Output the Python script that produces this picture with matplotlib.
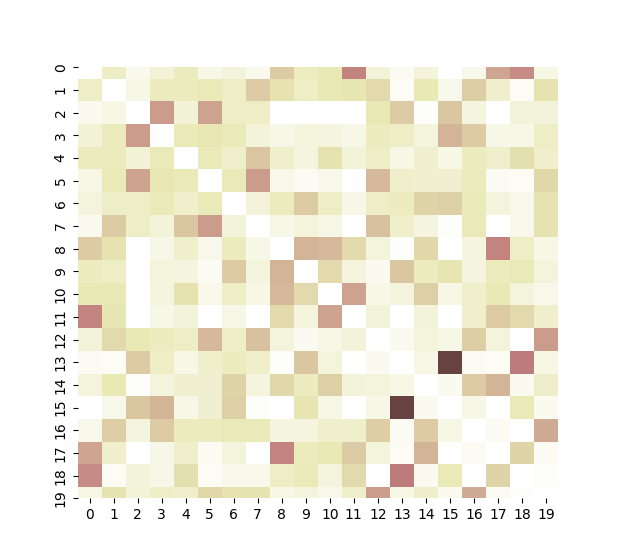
import numpy as np
import matplotlib
matplotlib.use("Agg")
import matplotlib.pyplot as plt
import seaborn as sns

n = 20
labels = [str(i) for i in range(n)]

# upper triangle (row i, columns i+1 .. 19)
upper = [
    [0.20, 0.07, 0.15, 0.23, 0.10, 0.13, 0.07, 0.38, 0.22, 0.25, 0.62, 0.14, 0.05, 0.13, 0.00, 0.08, 0.52, 0.60, 0.10],
    [0.10, 0.23, 0.23, 0.24, 0.20, 0.38, 0.28, 0.20, 0.25, 0.27, 0.32, 0.04, 0.25, 0.08, 0.37, 0.18, 0.04, 0.28],
    [0.55, 0.15, 0.53, 0.20, 0.20, 0.00, 0.00, 0.00, 0.00, 0.25, 0.38, 0.02, 0.40, 0.12, 0.00, 0.14, 0.14],
    [0.24, 0.26, 0.24, 0.14, 0.09, 0.13, 0.12, 0.09, 0.22, 0.20, 0.13, 0.47, 0.38, 0.09, 0.09, 0.20],
    [0.24, 0.18, 0.40, 0.18, 0.12, 0.28, 0.14, 0.20, 0.10, 0.17, 0.10, 0.23, 0.18, 0.30, 0.18],
    [0.24, 0.55, 0.08, 0.05, 0.08, 0.00, 0.45, 0.18, 0.17, 0.17, 0.23, 0.05, 0.04, 0.33],
    [0.14, 0.23, 0.38, 0.20, 0.09, 0.20, 0.22, 0.35, 0.36, 0.24, 0.13, 0.08, 0.28],
    [0.09, 0.13, 0.10, 0.00, 0.42, 0.18, 0.12, 0.02, 0.24, 0.00, 0.08, 0.28],
    [0.47, 0.45, 0.32, 0.13, 0.02, 0.33, 0.00, 0.12, 0.62, 0.20, 0.10],
    [0.32, 0.13, 0.06, 0.40, 0.22, 0.27, 0.12, 0.23, 0.24, 0.13],
    [0.53, 0.10, 0.13, 0.36, 0.10, 0.18, 0.25, 0.13, 0.08],
    [0.14, 0.00, 0.14, 0.00, 0.18, 0.38, 0.32, 0.18],
    [0.06, 0.13, 0.10, 0.37, 0.13, 0.00, 0.55],
    [0.10, 0.90, 0.05, 0.04, 0.65, 0.10],
    [0.06, 0.38, 0.47, 0.06, 0.19],
    [0.10, 0.00, 0.24, 0.06],
    [0.05, 0.00, 0.50],
    [0.35, 0.05],
    [0.02],
]

# symmetric matrix, zero diagonal
mat = np.zeros((n, n))
for i, row in enumerate(upper):
    mat[i, i + 1:] = row
mat = mat + mat.T

fig = plt.figure(figsize=(6.2, 5.6), dpi=100)
ax = fig.add_subplot(111)
sns.heatmap(mat, cmap="pink_r", vmin=0, vmax=1, cbar=False,
            xticklabels=labels, yticklabels=labels, ax=ax)
ax.set_yticklabels(labels, rotation=90, va="center")
ax.set_xticklabels(labels, rotation=0)
# top and bottom rows are cut in half in the original
ax.set_ylim(19.5, 0.5)

fig.savefig("out.png", dpi=100)
